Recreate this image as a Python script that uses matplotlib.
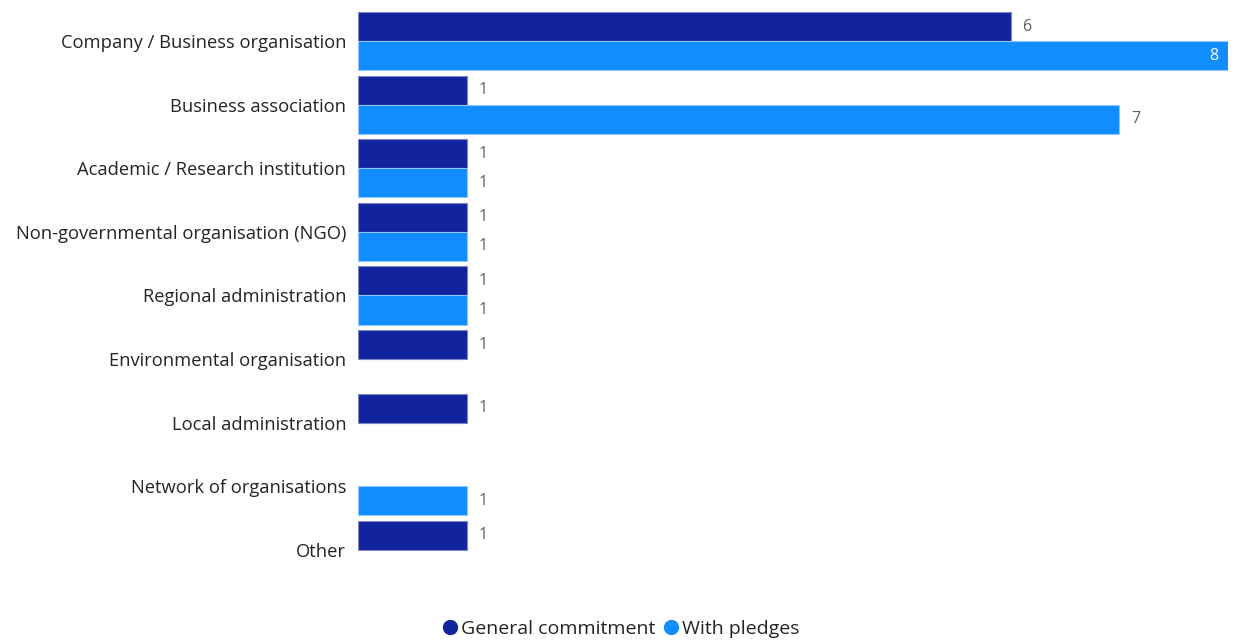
import matplotlib.pyplot as plt
import numpy as np

categories = ["Company / Business organisation", "Business association",
              "Academic / Research institution", "Non-governmental organisation (NGO)",
              "Regional administration", "Environmental organisation",
              "Local administration", "Network of organisations", "Other"]
general = [6, 1, 1, 1, 1, 1, 1, 0, 1]
pledges = [8, 7, 1, 1, 1, 0, 0, 1, 0]
series = ["General commitment", "With pledges"]

dark = "#12239E"
light = "#118DFF"
font = ["Open Sans", "DejaVu Sans"]

fig = plt.figure(figsize=(12.34, 6.42), dpi=100)
ax = fig.add_axes([358 / 1234, 1 - 581.8 / 642, 870 / 1234, 572.6 / 642])

y = np.arange(len(categories))
h = 0.456
b1 = ax.barh(y - h / 2, general, height=h, color=dark, edgecolor="#7f86c4", linewidth=0.8)
b2 = ax.barh(y + h / 2, pledges, height=h, color=light, edgecolor="#8cc8ff", linewidth=0.8)

xmax = 8
for bars, vals in [(b1, general), (b2, pledges)]:
    for bar, v in zip(bars, vals):
        if v == 0:
            bar.set_visible(False)
            continue
        cy = bar.get_y() + bar.get_height() / 2
        if v >= xmax:
            ax.text(v - 0.09, cy, str(v), ha="right", va="center", color="white",
                    fontsize=11.5, family=font)
        else:
            ax.text(v + 0.11, cy, str(v), ha="left", va="center", color="#605E5C",
                    fontsize=11.5, family=font)

ax.set_xlim(0, xmax)
ax.set_ylim(len(categories) - 0.5, -0.5)
ax.set_yticks(y)
ax.set_yticklabels(categories, fontsize=13.2, color="#252423", family=font)
ax.tick_params(axis="y", length=0, pad=8.5)
ax.set_xticks([])
for s in ax.spines.values():
    s.set_visible(False)

handles = [plt.Line2D([], [], marker="o", ls="", color=c, markersize=10) for c in (dark, light)]
fig.legend(handles, series, loc="center", bbox_to_anchor=(615 / 1234, 1 - 629 / 642),
           ncol=2, frameon=False, handletextpad=-0.45, columnspacing=-0.2,
           prop={"family": font, "size": 14}, labelcolor="#252423")

fig.savefig("out.png", dpi=100)
